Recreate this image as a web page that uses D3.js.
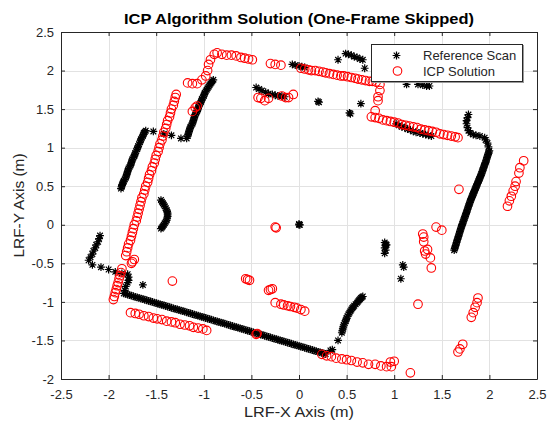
<!DOCTYPE html>
<html>
<head>
<meta charset="utf-8">
<script src="https://cdn.jsdelivr.net/npm/d3@7"></script>
<style>
  html, body { margin: 0; padding: 0; background: #fff; }
  svg { display: block; font-family: "Liberation Sans", Arial, Helvetica, sans-serif; }
</style>
</head>
<body>
<svg id="chart" width="547" height="422"></svg>
<script>
// ---- axis ticks ----
const xTicks = [-2.5, -2, -1.5, -1, -0.5, 0, 0.5, 1, 1.5, 2, 2.5];
const yTicks = [-2, -1.5, -1, -0.5, 0, 0.5, 1, 1.5, 2, 2.5];

// ---- reference scan (x, y in metres) ----
const refWallWest = [[-1.87,0.47],[-1.865,0.49],[-1.86,0.51],[-1.855,0.525],[-1.85,0.54],[-1.845,0.555],[-1.84,0.57],[-1.83,0.59],[-1.82,0.61],[-1.815,0.63],[-1.81,0.65],[-1.805,0.67],[-1.80,0.69],[-1.795,0.71],[-1.79,0.73],[-1.78,0.75],[-1.77,0.77],[-1.765,0.79],[-1.76,0.81],[-1.755,0.83],[-1.75,0.85],[-1.74,0.87],[-1.73,0.89],[-1.725,0.91],[-1.72,0.93],[-1.71,0.955],[-1.70,0.98],[-1.695,1.00],[-1.69,1.02],[-1.68,1.045],[-1.67,1.07],[-1.665,1.09],[-1.66,1.11],[-1.65,1.13],[-1.64,1.15],[-1.635,1.17],[-1.63,1.19],[-1.62,1.205],[-1.61,1.22]];
const refLedge = [[-1.53,1.21],[-1.42,1.18],[-1.34,1.16],[-1.24,1.12],[-1.18,1.12]];
const refWallNorthWest = [[-1.17,1.15],[-1.165,1.17],[-1.16,1.19],[-1.155,1.21],[-1.15,1.23],[-1.145,1.25],[-1.14,1.27],[-1.13,1.29],[-1.12,1.31],[-1.115,1.33],[-1.11,1.35],[-1.105,1.37],[-1.10,1.39],[-1.095,1.41],[-1.09,1.43],[-1.08,1.45],[-1.07,1.47],[-1.065,1.49],[-1.06,1.51],[-1.055,1.53],[-1.05,1.55],[-1.04,1.57],[-1.03,1.59],[-1.025,1.61],[-1.02,1.63],[-1.01,1.65],[-1.00,1.67],[-0.995,1.69],[-0.99,1.71],[-0.98,1.73],[-0.97,1.75],[-0.96,1.77],[-0.95,1.79],[-0.94,1.81],[-0.93,1.83],[-0.92,1.845],[-0.91,1.86],[-0.90,1.88]];
const refNorthA = [[-0.45,1.78],[-0.42,1.76],[-0.39,1.74],[-0.35,1.72],[-0.32,1.70],[-0.28,1.69],[-0.25,1.68],[-0.22,1.67],[-0.18,1.67],[-0.15,1.66]];
const refNorthB = [[-0.07,2.08],[-0.04,2.07],[0.00,2.06],[0.03,2.05],[0.06,2.04]];
const refNorthC = [[0.41,2.14],[0.49,2.22],[0.52,2.21],[0.55,2.20],[0.58,2.18],[0.61,2.17],[0.64,2.15],[0.67,2.14],[0.69,2.03]];
const refNorthD = [[1.13,1.82],[1.25,1.82],[1.30,1.81],[1.34,1.80],[1.37,1.80]];
const refEastLedge = [[1.02,1.31],[1.05,1.29],[1.08,1.27],[1.11,1.26],[1.14,1.24],[1.17,1.23],[1.20,1.21],[1.23,1.20],[1.27,1.19],[1.30,1.18],[1.33,1.17],[1.36,1.16],[1.39,1.15]];
const refEastHook = [[1.78,1.43],[1.77,1.39],[1.76,1.35],[1.76,1.31],[1.77,1.26],[1.78,1.22],[1.80,1.19],[1.83,1.17],[1.86,1.16],[1.90,1.15],[1.95,1.13],[1.96,1.10],[1.98,1.06],[1.99,1.01]];
const refWallEast = [[2.00,0.96],[1.995,0.945],[1.99,0.93],[1.985,0.91],[1.98,0.89],[1.975,0.87],[1.97,0.85],[1.965,0.83],[1.96,0.81],[1.955,0.795],[1.95,0.78],[1.945,0.76],[1.94,0.74],[1.935,0.725],[1.93,0.71],[1.925,0.69],[1.92,0.67],[1.915,0.655],[1.91,0.64],[1.905,0.625],[1.90,0.61],[1.895,0.595],[1.89,0.58],[1.885,0.565],[1.88,0.55],[1.875,0.535],[1.87,0.52],[1.865,0.505],[1.86,0.49],[1.855,0.475],[1.85,0.46],[1.845,0.445],[1.84,0.43],[1.835,0.415],[1.83,0.40],[1.825,0.385],[1.82,0.37],[1.815,0.355],[1.81,0.34],[1.805,0.325],[1.80,0.31],[1.795,0.29],[1.79,0.27],[1.785,0.255],[1.78,0.24],[1.775,0.22],[1.77,0.20],[1.765,0.18],[1.76,0.16],[1.755,0.145],[1.75,0.13],[1.745,0.11],[1.74,0.09],[1.735,0.075],[1.73,0.06],[1.725,0.04],[1.72,0.02],[1.715,0.005],[1.71,-0.01],[1.705,-0.03],[1.70,-0.05],[1.695,-0.07],[1.69,-0.09],[1.685,-0.11],[1.68,-0.13],[1.675,-0.15],[1.67,-0.17],[1.665,-0.19],[1.66,-0.21],[1.655,-0.23],[1.65,-0.25],[1.645,-0.27],[1.64,-0.29],[1.635,-0.31],[1.63,-0.33]];
const refWallSouthWest = [[-2.09,-0.14],[-2.10,-0.18],[-2.11,-0.22],[-2.13,-0.26],[-2.14,-0.30],[-2.16,-0.34],[-2.17,-0.38],[-2.19,-0.42],[-2.21,-0.46],[-2.17,-0.52],[-2.08,-0.55],[-2.00,-0.58],[-1.93,-0.61],[-1.86,-0.63],[-1.80,-0.64],[-1.79,-0.68],[-1.79,-0.72],[-1.80,-0.75],[-1.82,-0.80],[-1.83,-0.85]];
const refWallSouth = [[-1.84,-0.890],[-1.82,-0.897],[-1.80,-0.905],[-1.78,-0.912],[-1.76,-0.920],[-1.74,-0.927],[-1.72,-0.935],[-1.70,-0.942],[-1.68,-0.949],[-1.66,-0.957],[-1.64,-0.964],[-1.62,-0.972],[-1.60,-0.979],[-1.58,-0.986],[-1.56,-0.994],[-1.54,-1.001],[-1.52,-1.009],[-1.50,-1.016],[-1.48,-1.024],[-1.46,-1.031],[-1.44,-1.038],[-1.42,-1.046],[-1.40,-1.053],[-1.38,-1.061],[-1.36,-1.068],[-1.34,-1.076],[-1.32,-1.083],[-1.30,-1.090],[-1.28,-1.098],[-1.26,-1.105],[-1.24,-1.113],[-1.22,-1.120],[-1.20,-1.127],[-1.18,-1.135],[-1.16,-1.142],[-1.14,-1.150],[-1.12,-1.157],[-1.10,-1.165],[-1.08,-1.172],[-1.06,-1.179],[-1.04,-1.187],[-1.02,-1.194],[-1.00,-1.202],[-0.98,-1.209],[-0.96,-1.216],[-0.94,-1.224],[-0.92,-1.231],[-0.90,-1.239],[-0.88,-1.246],[-0.86,-1.254],[-0.84,-1.261],[-0.82,-1.268],[-0.80,-1.276],[-0.78,-1.283],[-0.76,-1.291],[-0.74,-1.298],[-0.72,-1.306],[-0.70,-1.313],[-0.68,-1.320],[-0.66,-1.328],[-0.64,-1.335],[-0.62,-1.343],[-0.60,-1.350],[-0.58,-1.357],[-0.56,-1.365],[-0.54,-1.372],[-0.52,-1.380],[-0.50,-1.387],[-0.48,-1.395],[-0.46,-1.402],[-0.44,-1.409],[-0.42,-1.417],[-0.40,-1.424],[-0.38,-1.432],[-0.36,-1.439],[-0.34,-1.446],[-0.32,-1.454],[-0.30,-1.461],[-0.28,-1.469],[-0.26,-1.476],[-0.24,-1.484],[-0.22,-1.491],[-0.20,-1.498],[-0.18,-1.506],[-0.16,-1.513],[-0.14,-1.521],[-0.12,-1.528],[-0.10,-1.535],[-0.08,-1.543],[-0.06,-1.550],[-0.04,-1.558],[-0.02,-1.565],[0.00,-1.573],[0.02,-1.580],[0.04,-1.587],[0.06,-1.595],[0.08,-1.602],[0.10,-1.610],[0.12,-1.617],[0.14,-1.624],[0.16,-1.632],[0.18,-1.639],[0.20,-1.647],[0.22,-1.654],[0.24,-1.662],[0.26,-1.669],[0.28,-1.676]];
const refSouthStub = [[0.33,-1.63],[0.35,-1.62],[0.41,-1.50],[0.45,-1.40],[0.455,-1.375],[0.46,-1.35],[0.465,-1.325],[0.47,-1.30],[0.48,-1.275],[0.49,-1.25],[0.495,-1.23],[0.50,-1.21],[0.51,-1.185],[0.52,-1.16],[0.53,-1.14],[0.54,-1.12],[0.55,-1.10],[0.56,-1.08],[0.57,-1.065],[0.58,-1.05],[0.595,-1.03],[0.61,-1.01],[0.62,-0.995],[0.63,-0.98],[0.64,-0.965],[0.65,-0.95],[0.66,-0.94],[0.67,-0.93]];
const refWestArc = [[-1.45,0.32],[-1.44,0.30],[-1.43,0.28],[-1.42,0.26],[-1.41,0.24],[-1.40,0.215],[-1.39,0.19],[-1.385,0.17],[-1.38,0.15],[-1.38,0.13],[-1.38,0.11],[-1.385,0.085],[-1.39,0.06],[-1.40,0.04],[-1.41,0.02],[-1.42,0.00],[-1.43,-0.02],[-1.44,-0.035],[-1.45,-0.05]];
const refScattered = [[0.20,1.60],[0.21,1.59],[0.53,1.45],[0.54,1.44],[0.65,1.57],[0.00,0.00],[0.01,0.00],[0.00,0.01],[0.90,-0.23],[0.91,-0.25],[0.91,-0.27],[0.90,-0.30],[0.91,-0.33],[0.90,-0.37],[0.92,-0.26],[1.09,-0.52],[1.10,-0.55],[1.07,-0.70],[-1.64,-0.78]];

// ---- ICP solution (x, y in metres) ----
const icpWallWest = [[-1.82,-0.40],[-1.81,-0.35],[-1.80,-0.30],[-1.79,-0.25],[-1.77,-0.20],[-1.76,-0.15],[-1.75,-0.10],[-1.74,-0.05],[-1.73,0.00],[-1.71,0.05],[-1.70,0.10],[-1.69,0.15],[-1.68,0.20],[-1.67,0.25],[-1.66,0.30],[-1.65,0.35],[-1.63,0.40],[-1.62,0.45],[-1.61,0.50],[-1.59,0.55],[-1.58,0.60],[-1.57,0.65],[-1.55,0.70],[-1.54,0.75],[-1.52,0.80],[-1.51,0.85],[-1.50,0.90],[-1.48,0.95],[-1.47,1.00],[-1.46,1.05],[-1.44,1.10],[-1.43,1.15],[-1.42,1.20],[-1.40,1.25],[-1.39,1.30],[-1.38,1.35],[-1.36,1.40],[-1.35,1.45],[-1.34,1.50],[-1.32,1.55],[-1.31,1.60],[-1.30,1.65],[-1.29,1.69]];
const icpWestLow = [[-1.95,-0.97],[-1.94,-0.93],[-1.93,-0.88],[-1.92,-0.84],[-1.91,-0.79],[-1.90,-0.75],[-1.89,-0.70],[-1.88,-0.66],[-1.87,-0.62],[-1.86,-0.57],[-1.75,-0.48],[-1.73,-0.45],[-1.76,-0.50],[-1.33,-0.73]];
const icpSouthWest = [[-1.77,-1.14],[-1.72,-1.15],[-1.68,-1.16],[-1.63,-1.18],[-1.58,-1.19],[-1.53,-1.21],[-1.49,-1.22],[-1.44,-1.23],[-1.39,-1.25],[-1.34,-1.26],[-1.30,-1.27],[-1.25,-1.29],[-1.20,-1.30],[-1.15,-1.31],[-1.11,-1.33],[-1.06,-1.34],[-1.01,-1.35],[-0.97,-1.37]];
const icpNorthWest = [[-1.17,1.84],[-1.12,1.83],[-1.07,1.83],[-1.12,1.47],[-1.09,1.52],[-1.07,1.54],[-1.02,1.88],[-0.98,1.93],[-0.96,2.00],[-0.95,2.08],[-0.93,2.14],[-0.89,2.21],[-0.86,2.23],[-0.81,2.21],[-0.76,2.20],[-0.71,2.20],[-0.66,2.19],[-0.61,2.17],[-0.57,2.16],[-0.53,2.15],[-0.49,2.14]];
const icpNorthMid = [[-0.30,2.09],[-0.25,2.08],[-0.19,2.07],[-0.43,1.65],[-0.40,1.64],[-0.36,1.61],[-0.32,1.64],[-0.18,1.67],[-0.14,1.65],[-0.11,1.65],[-0.06,1.69]];
const icpNorthRow = [[0.02,2.03],[0.06,2.02],[0.10,2.01],[0.13,2.00],[0.17,2.00],[0.21,1.99],[0.25,1.98],[0.28,1.97],[0.32,1.96],[0.36,1.95],[0.40,1.94],[0.44,1.93],[0.47,1.93],[0.51,1.92],[0.55,1.91],[0.59,1.90],[0.62,1.89],[0.66,1.88],[0.70,1.87],[0.74,1.86],[0.77,1.86],[0.81,1.85],[0.85,1.82],[0.85,1.74],[0.83,1.66],[0.83,1.61],[0.80,1.48]];
const icpEastRow = [[0.76,1.40],[0.80,1.39],[0.84,1.38],[0.88,1.36],[0.92,1.35],[0.96,1.34],[1.00,1.33],[1.04,1.32],[1.08,1.30],[1.12,1.29],[1.16,1.28],[1.20,1.27],[1.24,1.26],[1.28,1.24],[1.32,1.23],[1.36,1.22],[1.40,1.21],[1.44,1.20],[1.48,1.18],[1.52,1.17],[1.56,1.16],[1.60,1.15],[1.64,1.14],[1.67,1.13]];
const icpEast = [[1.68,0.46],[2.19,0.24],[2.21,0.31],[2.23,0.37],[2.25,0.44],[2.27,0.50],[2.28,0.56],[2.31,0.67],[2.32,0.74],[2.36,0.83],[1.44,-0.03],[1.50,-0.07],[1.30,-0.12],[1.31,-0.16],[1.31,-0.22],[1.32,-0.34],[1.35,-0.32],[1.33,-0.38],[1.38,-0.43],[1.39,-0.56],[1.25,-1.03],[1.81,-1.20],[1.83,-1.14],[1.85,-1.07],[1.87,-1.01],[1.88,-0.95],[1.67,-1.65],[1.69,-1.61],[1.72,-1.55],[1.17,-1.92]];
const icpSouthRow = [[0.24,-1.68],[0.29,-1.70],[0.34,-1.71],[0.39,-1.73],[0.45,-1.74],[0.50,-1.75],[0.55,-1.76],[0.61,-1.78],[0.67,-1.79],[0.73,-1.81],[0.80,-1.81],[0.86,-1.83],[0.92,-1.84],[0.97,-1.84],[0.96,-1.78],[1.00,-1.77]];
const icpCentre = [[-0.56,-0.70],[-0.54,-0.71],[-0.52,-0.72],[-0.32,-0.85],[-0.30,-0.84],[-0.28,-0.83],[-0.25,-1.01],[-0.19,-1.03],[-0.16,-1.04],[-0.12,-1.05],[-0.09,-1.06],[-0.05,-1.07],[-0.02,-1.08],[0.02,-1.10],[0.06,-1.12],[-0.25,-0.03],[-0.24,-0.04],[-0.45,-1.42],[-0.44,-1.41]];

const referenceScan = [].concat(refWallWest, refLedge, refWallNorthWest, refNorthA, refNorthB, refNorthC, refNorthD,
  refEastLedge, refEastHook, refWallEast, refWallSouthWest, refWallSouth, refSouthStub, refWestArc, refScattered);
const icpSolution = [].concat(icpWallWest, icpWestLow, icpSouthWest, icpNorthWest, icpNorthMid, icpNorthRow,
  icpEastRow, icpEast, icpSouthRow, icpCentre);

// ---- layout ----
const svg = d3.select("#chart");
const plot = { left: 61, right: 537, top: 32, bottom: 379 };
const x = d3.scaleLinear().domain([-2.5, 2.5]).range([plot.left, plot.right]);
const y = d3.scaleLinear().domain([-2, 2.5]).range([plot.bottom, plot.top]);
const axisColor = "#262626";
const fmt = v => String(v);

svg.append("rect").attr("width", 547).attr("height", 422).attr("fill", "#fff");

// grid
const grid = svg.append("g").attr("stroke", "#e2e2e2").attr("stroke-width", 1);
grid.selectAll("line.gx").data(xTicks).join("line")
  .attr("x1", d => Math.round(x(d)) + 0.5).attr("x2", d => Math.round(x(d)) + 0.5)
  .attr("y1", plot.top).attr("y2", plot.bottom);
grid.selectAll("line.gy").data(yTicks).join("line")
  .attr("y1", d => Math.round(y(d)) + 0.5).attr("y2", d => Math.round(y(d)) + 0.5)
  .attr("x1", plot.left).attr("x2", plot.right);

// markers: reference scan as asterisks, ICP solution as open circles
const r = 3.9, a = r * 0.72;
const starPath = `M${-r},0H${r}M0,${-r}V${r}M${-a},${-a}L${a},${a}M${-a},${a}L${a},${-a}`;
const clipId = "plotClip";
svg.append("clipPath").attr("id", clipId).append("rect")
  .attr("x", plot.left).attr("y", plot.top)
  .attr("width", plot.right - plot.left).attr("height", plot.bottom - plot.top);
const marks = svg.append("g").attr("clip-path", `url(#${clipId})`);
marks.append("g").selectAll("path").data(referenceScan).join("path")
  .attr("d", starPath)
  .attr("transform", d => `translate(${x(d[0])},${y(d[1])})`)
  .attr("fill", "none").attr("stroke", "#000").attr("stroke-width", 1.2);
marks.append("g").selectAll("circle").data(icpSolution).join("circle")
  .attr("cx", d => x(d[0])).attr("cy", d => y(d[1])).attr("r", 4.3)
  .attr("fill", "none").attr("stroke", "#ff0000").attr("stroke-width", 1.1);

// axes (box with inward ticks on all sides)
function styleAxis(g) {
  g.select(".domain").attr("stroke", axisColor);
  g.selectAll(".tick line").attr("stroke", axisColor);
  g.selectAll(".tick text").attr("fill", axisColor).attr("font-size", 13)
    .attr("font-family", '"Liberation Sans", Arial, sans-serif');
}
svg.append("g").attr("transform", `translate(0,${plot.bottom})`)
  .call(d3.axisBottom(x).tickValues(xTicks).tickFormat(fmt).tickSizeInner(-4).tickSizeOuter(0).tickPadding(11))
  .call(styleAxis);
svg.append("g").attr("transform", `translate(0,${plot.top})`)
  .call(d3.axisTop(x).tickValues(xTicks).tickFormat("").tickSizeInner(-4).tickSizeOuter(0))
  .call(styleAxis);
svg.append("g").attr("transform", `translate(${plot.left},0)`)
  .call(d3.axisLeft(y).tickValues(yTicks).tickFormat(fmt).tickSizeInner(-4).tickSizeOuter(0).tickPadding(7))
  .call(styleAxis);
svg.append("g").attr("transform", `translate(${plot.right},0)`)
  .call(d3.axisRight(y).tickValues(yTicks).tickFormat("").tickSizeInner(-4).tickSizeOuter(0))
  .call(styleAxis);

// title and axis labels
svg.append("text").attr("x", 299).attr("y", 24).attr("text-anchor", "middle")
  .attr("font-size", 15).attr("font-weight", "bold").attr("fill", "#000")
  .attr("textLength", 350).attr("lengthAdjust", "spacingAndGlyphs")
  .text("ICP Algorithm Solution (One-Frame Skipped)");
svg.append("text").attr("x", 299).attr("y", 417).attr("text-anchor", "middle")
  .attr("font-size", 14.5).attr("fill", axisColor)
  .attr("textLength", 110).attr("lengthAdjust", "spacingAndGlyphs")
  .text("LRF-X Axis (m)");
svg.append("text").attr("transform", "translate(24,205.5) rotate(-90)").attr("text-anchor", "middle")
  .attr("font-size", 14.5).attr("fill", axisColor)
  .attr("textLength", 104).attr("lengthAdjust", "spacingAndGlyphs")
  .text("LRF-Y Axis (m)");

// legend
const lg = svg.append("g");
lg.append("rect").attr("x", 372.5).attr("y", 45.5).attr("width", 151).attr("height", 37)
  .attr("fill", "none").attr("stroke", "#9a9a9a").attr("stroke-width", 1);
lg.append("rect").attr("x", 371.5).attr("y", 44.5).attr("width", 151).attr("height", 37)
  .attr("fill", "#fff").attr("stroke", axisColor).attr("stroke-width", 1);
lg.append("path").attr("d", starPath).attr("transform", "translate(396.5,55.5)")
  .attr("fill", "none").attr("stroke", "#000").attr("stroke-width", 1.2);
lg.append("circle").attr("cx", 397.5).attr("cy", 71).attr("r", 4.3)
  .attr("fill", "none").attr("stroke", "#ff0000").attr("stroke-width", 1.1);
lg.append("text").attr("x", 423).attr("y", 60).attr("font-size", 13).attr("fill", axisColor).text("Reference Scan");
lg.append("text").attr("x", 423).attr("y", 76).attr("font-size", 13).attr("fill", axisColor).text("ICP Solution");
</script>
</body>
</html>
